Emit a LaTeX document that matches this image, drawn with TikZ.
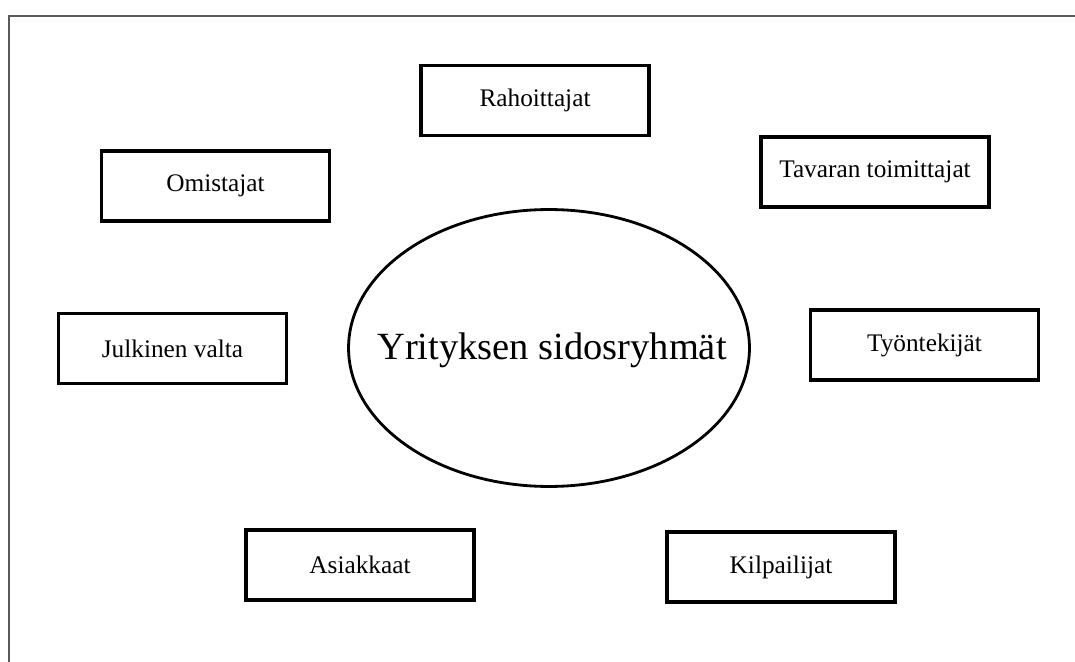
\documentclass[tikz,border=0pt]{standalone}
\usepackage{fontspec}
\setmainfont{Liberation Serif}
\usepackage{tikz}
\usetikzlibrary{positioning,shapes}

\tikzset{
	groupbox/.style={draw=black, line width=2.2pt, rectangle, minimum width=4.56cm, minimum height=1.40cm, inner sep=0pt, font=\fontsize{14.4}{17}\selectfont},
	coretext/.style={inner sep=0pt, font=\fontsize{21.9}{26}\selectfont}
}

\begin{document}
\begin{tikzpicture}[x=0.02cm,y=-0.02cm]
		\useasboundingbox (0,0) rectangle (1075,662);
		
		% frame
		\draw[black!65, line width=1.1pt] (9,662) -- (9,16) -- (1075,16);
		
		\node[coretext] (core) at (552,350) {Yrityksen sidosryhmät};
		\draw[black, line width=1.6pt] (549,348) ellipse [x radius=4.01cm, y radius=2.77cm];
		
		\node[groupbox] (rahoittajat) at (535,100.5) {Rahoittajat};
		\node[groupbox] (omistajat) at (215.5,186) {Omistajat};
		\node[groupbox] (toimittajat) at (875,172) {Tavaran toimittajat};
		\node[groupbox] (julkinen) at (172.5,348.5) {Julkinen valta};
		\node[groupbox] (tyontekijat) at (924.5,345) {Työntekijät};
		\node[groupbox] (asiakkaat) at (360,565) {Asiakkaat};
		\node[groupbox] (kilpailijat) at (781,567) {Kilpailijat};
\end{tikzpicture}
\end{document}
